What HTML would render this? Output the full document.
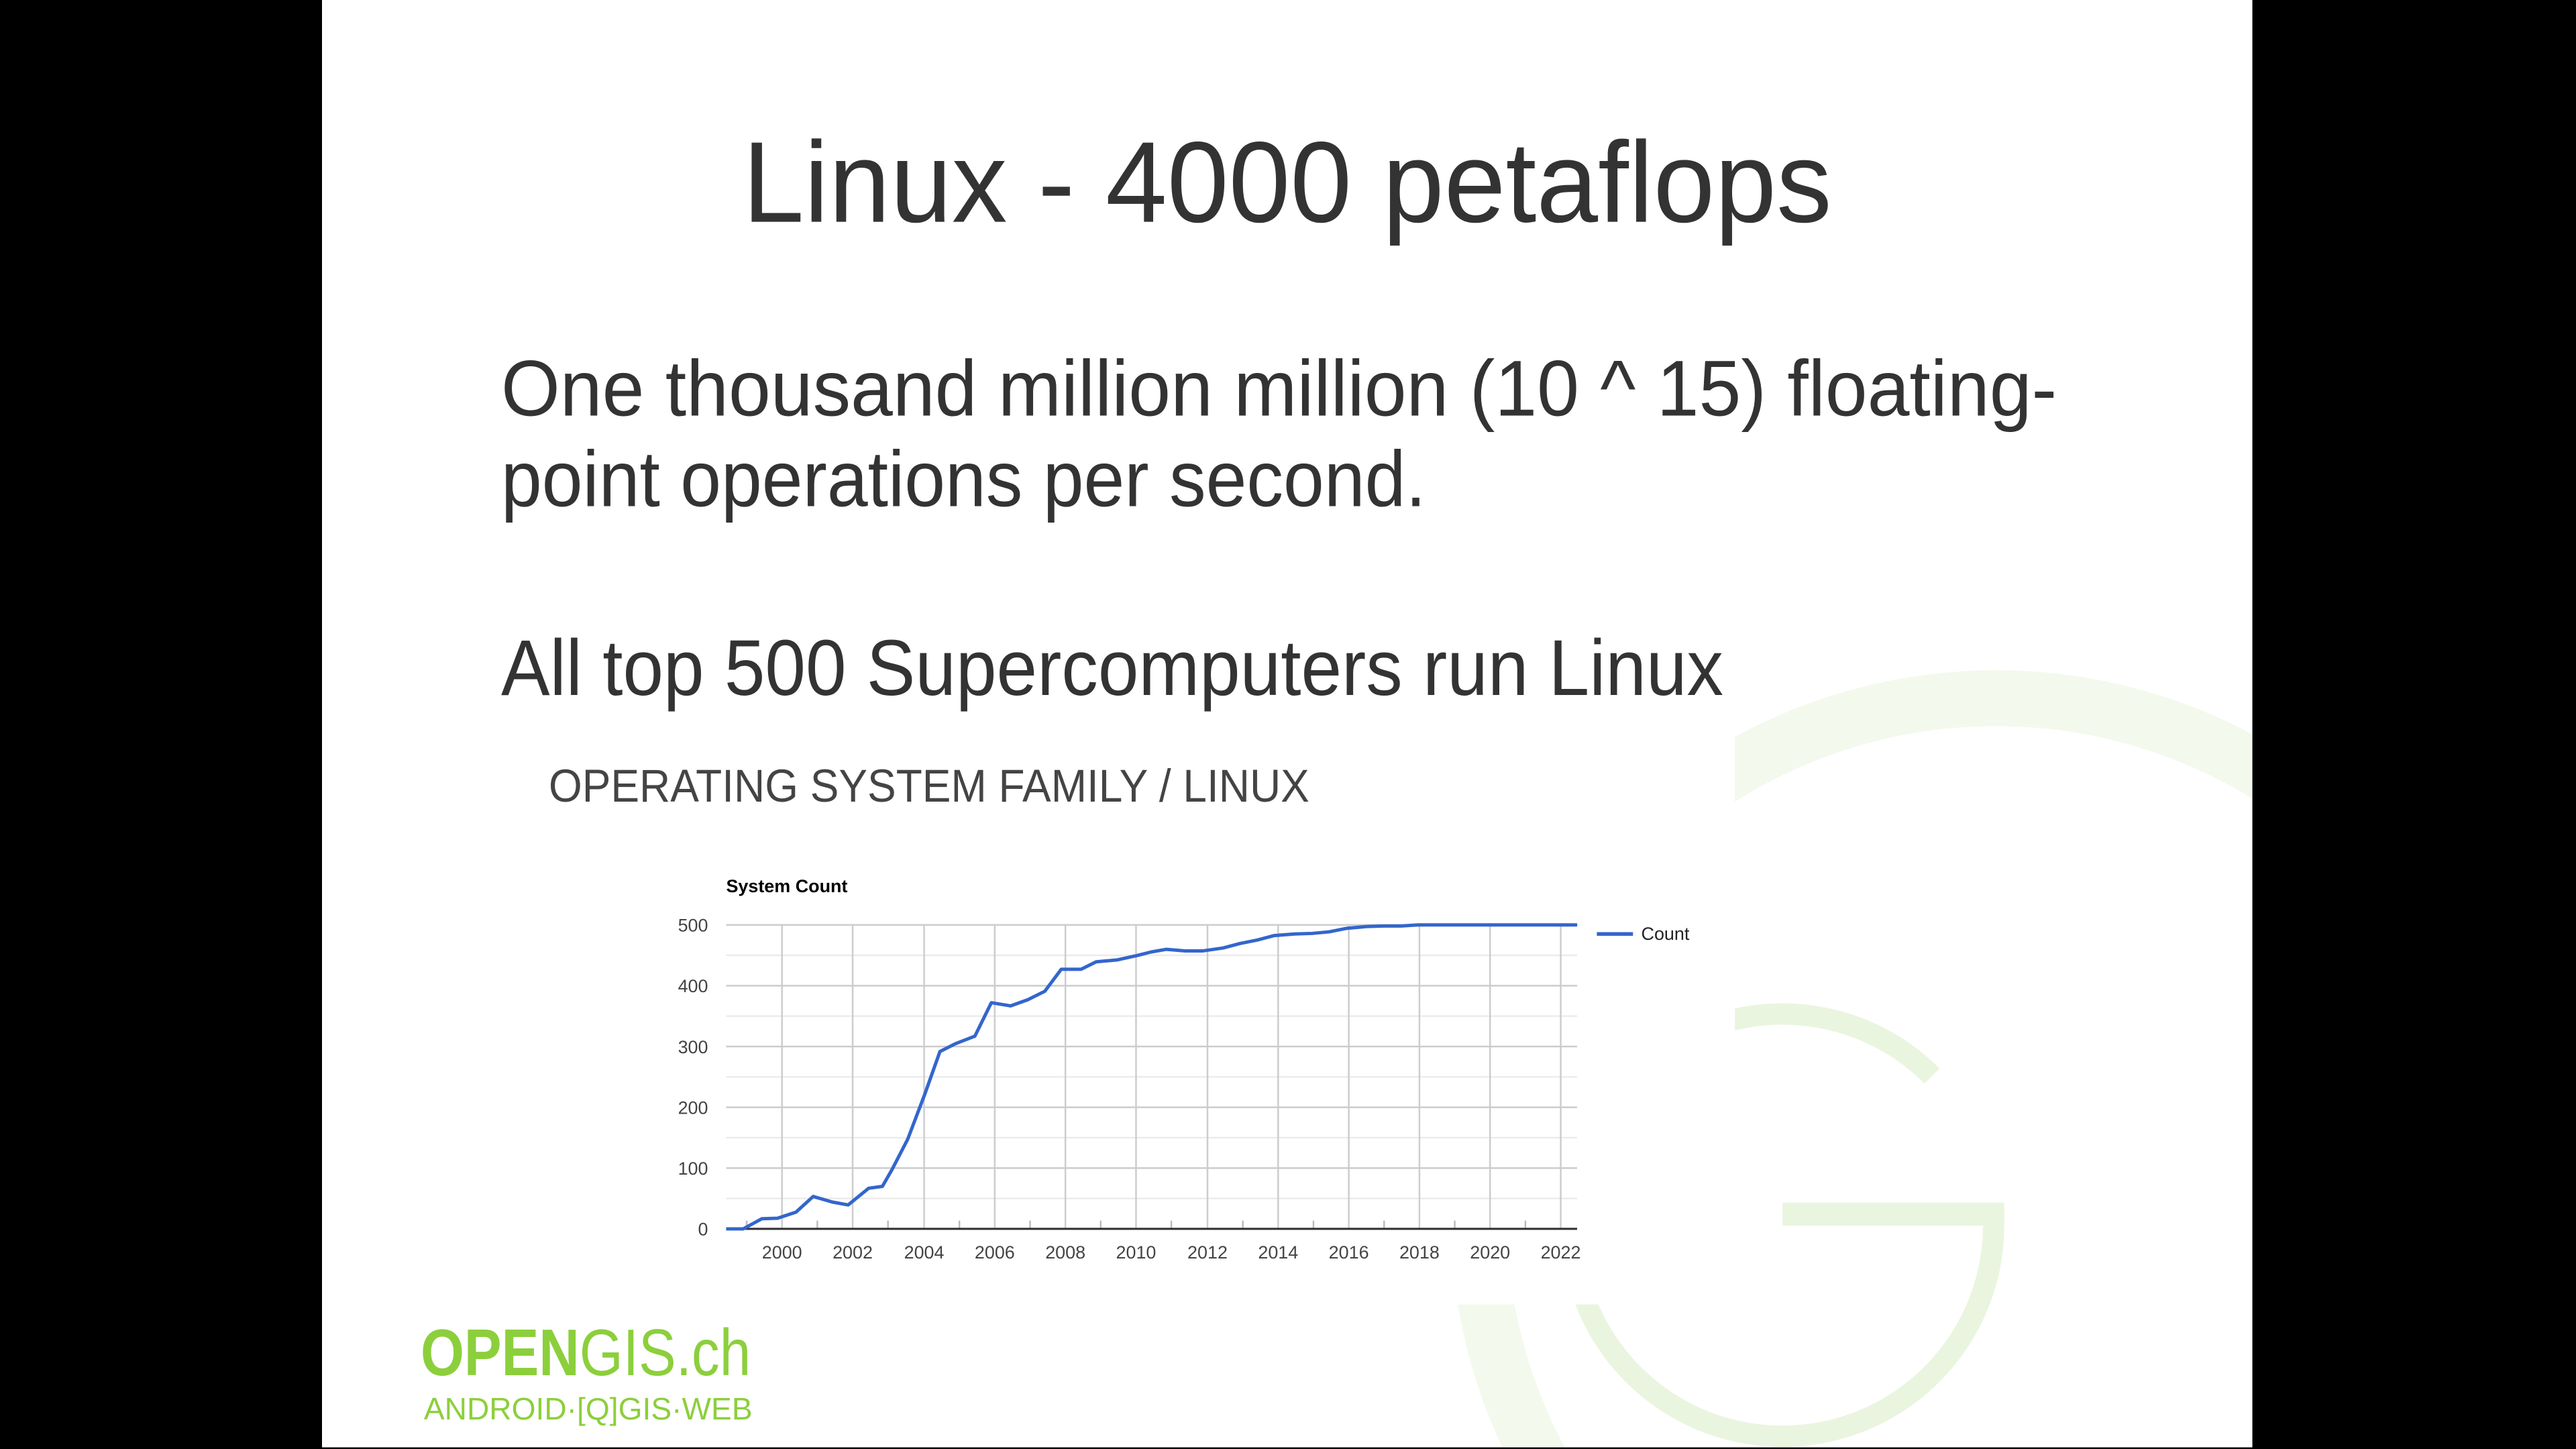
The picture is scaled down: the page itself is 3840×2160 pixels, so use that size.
<!DOCTYPE html>
<html style="margin:0;padding:0;width:3840px;height:2160px;overflow:hidden;background:#000"><head><meta charset="utf-8"><style>
html,body{margin:0;padding:0;background:#000;width:3840px;height:2160px;overflow:hidden}
svg{display:block;vertical-align:top}
</style></head><body>
<svg width="3840" height="2160" viewBox="0 0 1568 882" xmlns="http://www.w3.org/2000/svg" style="position:absolute;left:0;top:0">
<defs><clipPath id="slide"><rect x="196" y="0" width="1175" height="881"/></clipPath></defs>
<rect x="0" y="0" width="1568" height="882" fill="#000"/>
<rect x="196" y="0" width="1175" height="881" fill="#fff"/>
<g clip-path="url(#slide)">
  <circle cx="1215" cy="740" r="315" fill="none" stroke="#f3f9ec" stroke-width="34"/>
  <path d="M1176,655 A128.5,128.5 0 1 0 1213.5,746" fill="none" stroke="#eaf5df" stroke-width="13"/>
  <rect x="1085" y="732" width="135" height="14" fill="#eaf5df"/>
  <rect x="196" y="0" width="860" height="794" fill="#fff"/>
</g>
<g font-family="Liberation Sans, DejaVu Sans, sans-serif" fill="#333">
  <text x="452" y="135" font-size="70" textLength="663" lengthAdjust="spacingAndGlyphs">Linux - 4000 petaflops</text>
  <text x="305" y="253" font-size="48" textLength="947" lengthAdjust="spacingAndGlyphs">One thousand million million (10 ^ 15) floating-</text>
  <text x="305" y="308" font-size="48" textLength="563" lengthAdjust="spacingAndGlyphs">point operations per second.</text>
  <text x="305" y="423" font-size="48" textLength="744" lengthAdjust="spacingAndGlyphs">All top 500 Supercomputers run Linux</text>
  <text x="334" y="488" font-size="28" fill="#444" textLength="463" lengthAdjust="spacingAndGlyphs">OPERATING SYSTEM FAMILY / LINUX</text>
</g>
<g font-family="Liberation Sans, sans-serif" font-size="11" fill="#444">
  <text x="442" y="543" font-weight="bold" fill="#000">System Count</text>
  <g stroke="#ebebeb" stroke-width="1">
    <line x1="442" x2="960" y1="581.5" y2="581.5"/><line x1="442" x2="960" y1="618.5" y2="618.5"/>
    <line x1="442" x2="960" y1="655.5" y2="655.5"/><line x1="442" x2="960" y1="692.5" y2="692.5"/>
    <line x1="442" x2="960" y1="729.5" y2="729.5"/>
  </g>
  <g stroke="#ccc" stroke-width="1">
    <line x1="442" x2="960" y1="563" y2="563"/><line x1="442" x2="960" y1="600" y2="600"/>
    <line x1="442" x2="960" y1="637" y2="637"/><line x1="442" x2="960" y1="674" y2="674"/>
    <line x1="442" x2="960" y1="711" y2="711"/>
    <line x1="476" x2="476" y1="563" y2="748"/><line x1="519" x2="519" y1="563" y2="748"/>
    <line x1="562.5" x2="562.5" y1="563" y2="748"/><line x1="605.5" x2="605.5" y1="563" y2="748"/>
    <line x1="648.5" x2="648.5" y1="563" y2="748"/><line x1="691.5" x2="691.5" y1="563" y2="748"/>
    <line x1="735" x2="735" y1="563" y2="748"/><line x1="778" x2="778" y1="563" y2="748"/>
    <line x1="821" x2="821" y1="563" y2="748"/><line x1="864" x2="864" y1="563" y2="748"/>
    <line x1="907" x2="907" y1="563" y2="748"/><line x1="950" x2="950" y1="563" y2="748"/>
  </g>
  <g stroke="#bbb" stroke-width="1">
    <line x1="454.5" x2="454.5" y1="743" y2="748"/><line x1="497.5" x2="497.5" y1="743" y2="748"/>
    <line x1="540.5" x2="540.5" y1="743" y2="748"/><line x1="584" x2="584" y1="743" y2="748"/>
    <line x1="627" x2="627" y1="743" y2="748"/><line x1="670" x2="670" y1="743" y2="748"/>
    <line x1="713" x2="713" y1="743" y2="748"/><line x1="756.5" x2="756.5" y1="743" y2="748"/>
    <line x1="799.5" x2="799.5" y1="743" y2="748"/><line x1="842.5" x2="842.5" y1="743" y2="748"/>
    <line x1="885.5" x2="885.5" y1="743" y2="748"/><line x1="928.5" x2="928.5" y1="743" y2="748"/>
  </g>
  <line x1="442" x2="960" y1="748" y2="748" stroke="#333" stroke-width="1.3"/>
  <g text-anchor="end">
    <text x="431" y="567">500</text><text x="431" y="604">400</text><text x="431" y="641">300</text>
    <text x="431" y="678">200</text><text x="431" y="715">100</text><text x="431" y="752">0</text>
  </g>
  <g text-anchor="middle">
    <text x="476" y="766">2000</text><text x="519" y="766">2002</text><text x="562.5" y="766">2004</text>
    <text x="605.5" y="766">2006</text><text x="648.5" y="766">2008</text><text x="691.5" y="766">2010</text>
    <text x="735" y="766">2012</text><text x="778" y="766">2014</text><text x="821" y="766">2016</text>
    <text x="864" y="766">2018</text><text x="907" y="766">2020</text><text x="950" y="766">2022</text>
  </g>
  <g transform="translate(442,563) scale(0.4171,0.16157) translate(-120,-253)">
    <polyline fill="none" stroke="#3366cc" stroke-width="5" vector-effect="non-scaling-stroke" stroke-linejoin="round"
     points="120,1398 145,1398 172,1360 195,1358 222,1335 247,1276 275,1297 298,1308 328,1245 348,1238 362,1175 385,1060 410,890 432,730 455,700 483,672 507,546 535,558 560,535 585,503 609,420 638,420 660,392 690,385 720,368 740,355 762,345 790,351 815,351 845,340 870,323 895,310 920,293 950,287 975,285 1000,279 1025,266 1055,259 1080,257 1105,257 1130,253 1362,253"/>
  </g>
  <line x1="972" x2="994" y1="568.5" y2="568.5" stroke="#3366cc" stroke-width="2.2"/>
  <text x="999" y="572" fill="#222">Count</text>
</g>
<g font-family="Liberation Sans, DejaVu Sans, sans-serif" fill="#8ccf3c">
  <text x="256" y="837" font-size="40" textLength="201" lengthAdjust="spacingAndGlyphs"><tspan font-weight="bold">OPEN</tspan>GIS.ch</text>
  <text x="258" y="864" font-size="19" textLength="200" lengthAdjust="spacingAndGlyphs">ANDROID·[Q]GIS·WEB</text>
</g>
</svg>
</body></html>
